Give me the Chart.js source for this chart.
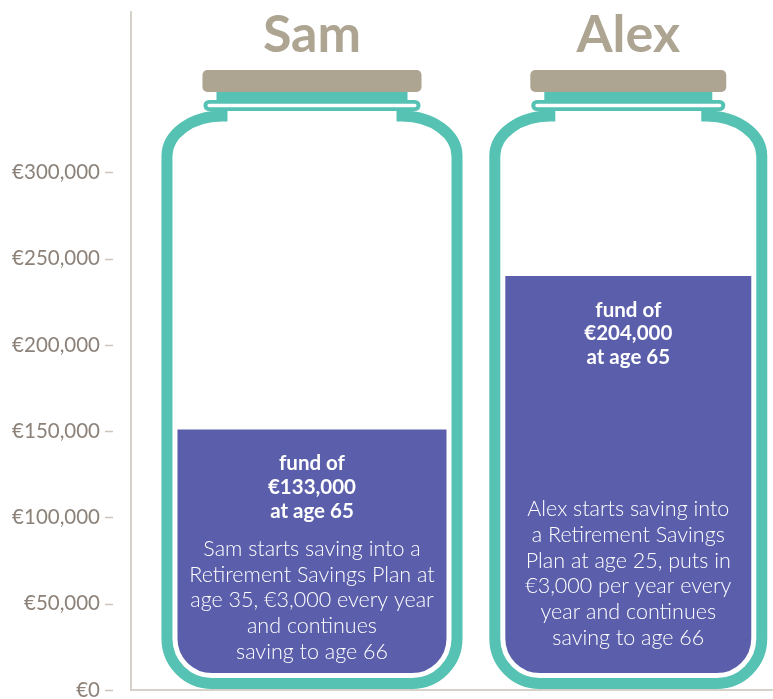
<!DOCTYPE html>
<html><head><meta charset="utf-8">
<script src="https://cdn.jsdelivr.net/npm/chart.js@4"></script>
<style>html,body{margin:0;padding:0;background:#fff;overflow:hidden}</style>
</head><body>
<canvas id="c" width="773" height="699"></canvas>
<script>
// ---- data ----
const categories = ['Sam', 'Alex'];
const jarFill = [151000, 240000];              // fill level of each jar, read on the y axis
const fundAmounts = ['€133,000', '€204,000'];
const fundAge = 65;
const descriptions = [
  ['Sam starts saving into a', 'Retirement Savings Plan at', 'age 35, €3,000 every year', 'and continues', 'saving to age 66'],
  ['Alex starts saving into', 'a Retirement Savings', 'Plan at age 25, puts in', '€3,000 per year every', 'year and continues', 'saving to age 66']
];
const yTickValues = [0, 50000, 100000, 150000, 200000, 250000, 300000];

// ---- style ----
const TEAL = '#55c2b3', PURPLE = '#5b5fab', TAN = '#ada492';
const AXIS = '#d6d1c9', TICKTXT = '#8c8279', DASH = '#cbc5bc';
const FONT = 'Lato';
const barPct = [0.917, 0.844];
const descBottom = [38, 52];

const datasets = categories.map((name, i) => ({
  label: name,
  data: [{ x: i, y: jarFill[i] }],
  backgroundColor: PURPLE,
  grouped: false,
  categoryPercentage: 1,
  barPercentage: barPct[i],
  borderSkipped: false,
  borderRadius: { topLeft: 0, topRight: 0, bottomLeft: 45, bottomRight: 45 }
}));

function roundRect(ctx, x, y, w, h, r) {
  ctx.beginPath();
  ctx.moveTo(x + r, y);
  ctx.arcTo(x + w, y, x + w, y + h, r);
  ctx.arcTo(x + w, y + h, x, y + h, r);
  ctx.arcTo(x, y + h, x, y, r);
  ctx.arcTo(x, y, x + w, y, r);
  ctx.closePath();
  ctx.fill();
}

const jarPlugin = {
  id: 'jars',
  afterDatasetsDraw(chart) {
    const ctx = chart.ctx, area = chart.chartArea, ys = chart.scales.y;
    const base = ys.getPixelForValue(0);
    chart.data.datasets.forEach((ds, i) => {
      const el = chart.getDatasetMeta(i).data[0];
      const p = el.getProps(['x', 'y', 'width'], true);
      const L = p.x - p.width / 2, R = p.x + p.width / 2;
      const top = area.top;
      const bot = base - 6.5;
      const neckTop = top + 99, shoulderY = top + 104, sideY = top + 144;
      const nIn = 55, r = 45;
      const path = new Path2D();
      path.moveTo(L + nIn, neckTop);
      path.lineTo(L + nIn, shoulderY);
      path.bezierCurveTo(L + nIn * 0.45, shoulderY, L, sideY - 0.55 * (sideY - shoulderY), L, sideY);
      path.lineTo(L, bot - r);
      path.arcTo(L, bot, L + r, bot, r);
      path.lineTo(R - r, bot);
      path.arcTo(R, bot, R, bot - r, r);
      path.lineTo(R, sideY);
      path.bezierCurveTo(R, sideY - 0.55 * (sideY - shoulderY), R - nIn * 0.45, shoulderY, R - nIn, shoulderY);
      path.lineTo(R - nIn, neckTop);
      ctx.save();
      ctx.lineJoin = 'miter';
      ctx.lineCap = 'butt';
      ctx.strokeStyle = '#fff'; ctx.lineWidth = 21; ctx.stroke(path);
      ctx.strokeStyle = TEAL; ctx.lineWidth = 11; ctx.stroke(path);
      // neck
      ctx.fillStyle = TEAL;
      ctx.fillRect(L + nIn - 5.5, top + 80, (R - L) - 2 * (nIn - 5.5), 9);
      // rim ring
      roundRect(ctx, L + 36.5, top + 88, (R - L) - 73, 11, 5.5);
      ctx.fillStyle = '#fff';
      roundRect(ctx, L + 40.5, top + 91.8, (R - L) - 81, 3.4, 1.7);
      // lid
      ctx.fillStyle = TAN;
      roundRect(ctx, L + 35.5, top + 58, (R - L) - 71, 22, 5);
      // name
      ctx.fillStyle = TAN;
      ctx.textAlign = 'center';
      ctx.textBaseline = 'alphabetic';
      ctx.font = `bold 52px ${FONT}`;
      ctx.fillText(categories[i], p.x, top + 40);
      // fund text
      ctx.fillStyle = '#fff';
      ctx.textBaseline = 'middle';
      ctx.font = `bold 20.5px ${FONT}`;
      const fund = ['fund of', fundAmounts[i], 'at age ' + fundAge];
      fund.forEach((t, k) => ctx.fillText(t, p.x, p.y + 34 + k * 23.7));
      ctx.font = `300 21.5px ${FONT}`;
      const d = descriptions[i];
      d.forEach((t, k) => ctx.fillText(t, p.x, base - descBottom[i] - (d.length - 1 - k) * 25.8));
      ctx.restore();
    });
  },
  afterDraw(chart) {
    const ctx = chart.ctx, ys = chart.scales.y, left = chart.chartArea.left;
    ctx.save();
    ctx.strokeStyle = DASH; ctx.lineWidth = 1.5;
    ys.ticks.forEach(t => {
      const y = Math.round(ys.getPixelForValue(t.value)) + 0.5;
      ctx.beginPath(); ctx.moveTo(left - 26, y); ctx.lineTo(left - 18, y); ctx.stroke();
    });
    ctx.restore();
  }
};

new Chart(document.getElementById('c'), {
  type: 'bar',
  data: { datasets },
  options: {
    responsive: false,
    animation: false,
    devicePixelRatio: 1,
    layout: { padding: { top: 12, left: 0, right: 0, bottom: 0 } },
    plugins: { legend: { display: false }, tooltip: { enabled: false } },
    scales: {
      x: {
        type: 'linear', min: -0.5722, max: 1.4575, offset: false,
        afterBuildTicks: s => { s.ticks = categories.map((c, i) => ({ value: i })); },
        afterFit: s => { s.height = 9; s.paddingLeft = 0; s.paddingRight = 0; },
        ticks: { display: false },
        grid: { display: false, drawTicks: false, offset: false },
        border: { display: true, color: AXIS, width: 2, z: 1 }
      },
      y: {
        min: 0, max: 393000,
        afterBuildTicks: s => { s.ticks = yTickValues.map(v => ({ value: v })); },
        afterFit: s => { s.width = 131; s.paddingTop = 0; s.paddingBottom = 0; },
        grid: { display: false, drawTicks: false },
        border: { display: true, color: AXIS, width: 2 },
        ticks: {
          padding: 31, color: TICKTXT,
          font: { family: FONT, size: 20.5, weight: 400 },
          callback: v => '€' + Number(v).toLocaleString('en-US')
        }
      }
    }
  },
  plugins: [jarPlugin]
});
</script>
</body></html>
